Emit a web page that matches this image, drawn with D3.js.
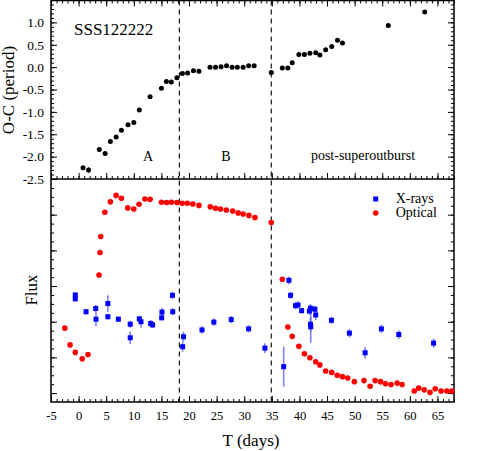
<!DOCTYPE html>
<html>
<head>
<meta charset="utf-8">
<script src="https://cdn.jsdelivr.net/npm/d3@7"></script>
<style>
  body { margin: 0; background: #fff; }
  text { font-family: "Liberation Serif", "Times New Roman", serif; fill: #000; }
</style>
</head>
<body>
<svg id="chart" width="480" height="451"></svg>
<script>
// O-C (period) vs T
const ocT = [0.8, 1.8, 3.75, 4.8, 5.75, 6.8, 7.75, 8.95, 10.0, 11.0, 12.95, 15.0, 15.9, 16.8, 17.8, 18.8, 19.75, 20.8, 21.8,
  23.8, 24.8, 25.8, 26.8, 27.8, 28.75, 29.8, 30.8, 31.8, 34.9, 36.9, 37.9, 38.7, 39.9, 40.9, 41.9, 42.95, 43.7, 44.75,
  45.85, 46.9, 47.8, 56.1, 62.7];
const ocVal = [-2.25, -2.30, -1.84, -1.93, -1.66, -1.56, -1.41, -1.29, -1.24, -0.96, -0.66, -0.47, -0.32, -0.33, -0.24,
  -0.14, -0.13, -0.08, -0.09, 0.0, 0.0, 0.01, 0.03, 0.0, 0.0, 0.0, 0.03, 0.03, -0.12, -0.02, -0.02, 0.10, 0.28, 0.28,
  0.31, 0.32, 0.27, 0.39, 0.46, 0.60, 0.54, 0.93, 1.23];
const ocErr = [0.04, 0.06, 0.04, 0.04, 0.03, 0.03, 0.03, 0.03, 0.03, 0.03, 0.03, 0.03, 0.03, 0.03, 0.03, 0.03, 0.03,
  0.03, 0.03, 0.03, 0.03, 0.03, 0.03, 0.03, 0.03, 0.03, 0.03, 0.03, 0.03, 0.03, 0.03, 0.03, 0.03, 0.03, 0.03, 0.03,
  0.03, 0.03, 0.03, 0.04, 0.04, 0.04, 0.04];

// Optical flux
const optT = [-2.5, -1.55, -0.6, 0.65, 1.7, 3.7, 3.88, 4.0, 4.75, 5.75, 6.8, 7.75, 8.9, 10.0, 10.95, 12.0, 12.95, 15.0,
  15.95, 16.8, 17.8, 18.75, 19.7, 20.7, 21.8, 23.85, 24.8, 25.7, 26.75, 27.9, 28.9, 29.8, 30.85, 31.95, 34.9, 36.9,
  37.9, 38.7, 39.9, 40.9, 41.9, 42.95, 43.7, 44.75, 45.85, 46.85, 47.8, 48.75, 49.95, 51.7, 52.8, 53.7, 54.7, 55.6,
  56.6, 57.7, 58.6, 60.8, 61.6, 62.6, 63.65, 64.6, 65.65, 66.7, 67.6];
const optFlux = [1.82, 1.35, 1.14, 0.96, 1.08, 3.31, 3.94, 4.39, 5.07, 5.36, 5.54, 5.46, 5.19, 5.16, 5.29, 5.44, 5.43,
  5.35, 5.34, 5.35, 5.34, 5.32, 5.32, 5.30, 5.26, 5.22, 5.18, 5.16, 5.13, 5.10, 5.05, 5.02, 4.98, 4.92, 4.78, 3.19,
  1.85, 1.59, 1.31, 1.10, 0.99, 0.88, 0.79, 0.62, 0.58, 0.50, 0.46, 0.42, 0.32, 0.35, 0.19, 0.35, 0.32, 0.26, 0.24,
  0.28, 0.24, 0.06, 0.14, 0.09, 0.02, 0.12, 0.06, 0.06, 0.06];

// X-ray flux
const xrT = [-0.6, -0.6, 1.35, 3.1, 3.15, 5.3, 5.3, 7.2, 9.35, 9.35, 11.0, 11.3, 13.05, 13.4, 15.05, 15.1, 17.0, 17.05,
  19.0, 18.85, 22.35, 24.5, 27.65, 30.8, 33.75, 37.15, 38.1, 38.4, 39.3, 39.75, 40.4, 41.8, 42.0, 42.0, 42.05, 42.8,
  42.95, 45.8, 49.05, 51.9, 54.85, 58.0, 64.3];
const xrFlux = [2.75, 2.64, 2.28, 2.37, 2.07, 2.51, 2.14, 2.07, 1.93, 1.55, 2.08, 2.00, 1.95, 1.91, 2.11, 2.27, 2.74,
  2.28, 1.58, 1.30, 1.77, 1.99, 2.06, 1.80, 1.26, 0.74, 3.16, 2.74, 2.45, 2.47, 2.31, 2.30, 2.38, 1.93, 1.86, 2.35,
  2.19, 2.04, 1.68, 1.13, 1.80, 1.64, 1.40];
const xrErr = [0.07, 0.07, 0.08, 0.1, 0.2, 0.23, 0.08, 0.08, 0.1, 0.18, 0.08, 0.16, 0.1, 0.08, 0.08, 0.12, 0.1, 0.1,
  0.14, 0.14, 0.1, 0.1, 0.1, 0.1, 0.14, 0.56, 0.11, 0.1, 0.1, 0.1, 0.08, 0.1, 0.12, 0.2, 0.45, 0.1, 0.14, 0.1, 0.12,
  0.16, 0.12, 0.12, 0.13];

const phaseLines = [18.25, 34.9];
const xTicks = [-5, 0, 5, 10, 15, 20, 25, 30, 35, 40, 45, 50, 55, 60, 65];
const ocTicks = [-2.5, -2.0, -1.5, -1.0, -0.5, 0.0, 0.5, 1.0];
const fluxTicks = [0, 1, 2, 3, 4, 5, 6];

const left = 51, right = 454, topY = 0.5, mid = 179, bottom = 402;

const svg = d3.select("#chart");

const x = d3.scaleLinear().domain([-5, 68]).range([left, right]);
const yOC = d3.scaleLinear().domain([-2.5, 1.5]).range([mid, 0]);
const yFlux = d3.scaleLinear().domain([-0.25, 6]).range([bottom, mid]);

// helper: draw an axis with no domain line
function ticks(axis, tx, ty, cls) {
  const g = svg.append("g")
    .attr("class", cls)
    .attr("transform", "translate(" + tx + "," + ty + ")")
    .call(axis);
  g.select(".domain").remove();
  g.selectAll("line").attr("stroke", "#000").attr("stroke-width", 1);
  g.selectAll("text").attr("font-family", "Liberation Serif").attr("fill", "#000");
  return g;
}

const minorX = d3.range(-5, 69, 1);

// top panel x ticks (top & bottom edges)
ticks(d3.axisTop(x).tickValues(minorX).tickSize(-3).tickFormat(""), 0, topY, "tx");
ticks(d3.axisTop(x).tickValues(xTicks).tickSize(-6).tickFormat(""), 0, topY, "tx");
ticks(d3.axisBottom(x).tickValues(minorX).tickSize(-3).tickFormat(""), 0, mid, "tx");
ticks(d3.axisBottom(x).tickValues(xTicks).tickSize(-6).tickFormat(""), 0, mid, "tx");

// bottom panel x axis with labels
ticks(d3.axisBottom(x).tickValues(minorX).tickSize(-3).tickFormat(""), 0, bottom, "bx");
ticks(d3.axisBottom(x).tickValues(xTicks).tickSizeInner(-6).tickSizeOuter(0).tickPadding(9)
  .tickFormat(d => String(d)), 0, bottom, "bx")
  .selectAll("text").attr("font-size", 12.5);

// top panel y ticks
const minorOC = d3.range(-25, 15, 1).map(d => d / 10);
ticks(d3.axisLeft(yOC).tickValues(minorOC).tickSize(-3).tickFormat(""), left, 0, "oy");
ticks(d3.axisLeft(yOC).tickValues(ocTicks).tickSizeInner(-6).tickSizeOuter(0).tickPadding(7)
  .tickFormat(d => d.toFixed(1)), left, 0, "oy")
  .selectAll("text").attr("font-size", 13.5);
ticks(d3.axisRight(yOC).tickValues(minorOC).tickSize(-3).tickFormat(""), right, 0, "oy");
ticks(d3.axisRight(yOC).tickValues(ocTicks).tickSize(-6).tickFormat(""), right, 0, "oy");

// bottom panel y ticks (no labels)
const minorFlux = d3.range(-0.25, 6.01, 0.25).filter(d => d > -0.2);
ticks(d3.axisLeft(yFlux).tickValues(minorFlux).tickSize(-3).tickFormat(""), left, 0, "fy");
ticks(d3.axisLeft(yFlux).tickValues(fluxTicks).tickSize(-6).tickFormat(""), left, 0, "fy");
ticks(d3.axisRight(yFlux).tickValues(minorFlux).tickSize(-3).tickFormat(""), right, 0, "fy");
ticks(d3.axisRight(yFlux).tickValues(fluxTicks).tickSize(-6).tickFormat(""), right, 0, "fy");

// frames
svg.append("rect")
  .attr("x", left).attr("y", topY)
  .attr("width", right - left).attr("height", bottom - topY)
  .attr("fill", "none").attr("stroke", "#000").attr("stroke-width", 1.5);
svg.append("line")
  .attr("x1", left).attr("x2", right)
  .attr("y1", mid).attr("y2", mid)
  .attr("stroke", "#000").attr("stroke-width", 1.5);

// dashed phase boundaries
svg.selectAll(".phase")
  .data(phaseLines)
  .enter()
  .append("line")
  .attr("class", "phase")
  .attr("x1", d => x(d)).attr("x2", d => x(d))
  .attr("y1", topY).attr("y2", bottom)
  .attr("stroke", "#000").attr("stroke-width", 1.1)
  .attr("stroke-dasharray", "5,4");

// O-C points
const oc = ocT.map((t, i) => ({ t: t, v: ocVal[i], e: ocErr[i] }));
svg.append("g").selectAll("line")
  .data(oc).enter().append("line")
  .attr("x1", d => x(d.t)).attr("x2", d => x(d.t))
  .attr("y1", d => yOC(d.v - d.e)).attr("y2", d => yOC(d.v + d.e))
  .attr("stroke", "#000").attr("stroke-width", 1.3);
svg.append("g").selectAll("circle")
  .data(oc).enter().append("circle")
  .attr("cx", d => x(d.t)).attr("cy", d => yOC(d.v))
  .attr("r", 2.5).attr("fill", "#000");

// optical
const opt = optT.map((t, i) => ({ t: t, v: optFlux[i] }));
svg.append("g").selectAll("circle")
  .data(opt).enter().append("circle")
  .attr("cx", d => x(d.t)).attr("cy", d => yFlux(d.v))
  .attr("r", 2.8).attr("fill", "#ff0000");

// x-rays with error bars
const xr = xrT.map((t, i) => ({ t: t, v: xrFlux[i], e: xrErr[i] }));
svg.append("g").selectAll("line")
  .data(xr).enter().append("line")
  .attr("x1", d => x(d.t)).attr("x2", d => x(d.t))
  .attr("y1", d => yFlux(d.v - d.e)).attr("y2", d => yFlux(d.v + d.e))
  .attr("stroke", "#3b3bff").attr("stroke-opacity", 0.65).attr("stroke-width", 1.6);
svg.append("g").selectAll("rect")
  .data(xr).enter().append("rect")
  .attr("x", d => x(d.t) - 2.5).attr("y", d => yFlux(d.v) - 2.5)
  .attr("width", 5).attr("height", 5)
  .attr("fill", "#0000ff");

// Legend
svg.append("rect")
  .attr("x", 373.2).attr("y", 196.5).attr("width", 5).attr("height", 5)
  .attr("fill", "#0000ff");
svg.append("circle")
  .attr("cx", 375.7).attr("cy", 213).attr("r", 2.8)
  .attr("fill", "#ff0000");
svg.append("text").attr("x", 395.7).attr("y", 203).attr("font-size", 14).text("X-rays");
svg.append("text").attr("x", 395.7).attr("y", 217).attr("font-size", 14).text("Optical");

// Labels
svg.append("text").attr("x", 74).attr("y", 35).attr("font-size", 17).text("SSS122222");
svg.append("text").attr("x", 148).attr("y", 161).attr("font-size", 14)
  .style("text-anchor", "middle").text("A");
svg.append("text").attr("x", 226).attr("y", 161).attr("font-size", 14)
  .style("text-anchor", "middle").text("B");
svg.append("text").attr("x", 363).attr("y", 160).attr("font-size", 14)
  .style("text-anchor", "middle").text("post-superoutburst");

// axis titles
svg.append("text")
  .attr("transform", "translate(13.5," + 90 + ") rotate(-90)")
  .attr("font-size", 17).style("text-anchor", "middle")
  .text("O-C (period)");
svg.append("text")
  .attr("transform", "translate(36.5," + 290 + ") rotate(-90)")
  .attr("font-size", 17).style("text-anchor", "middle")
  .text("Flux");
svg.append("text")
  .attr("x", 251).attr("y", 446)
  .attr("font-size", 17).style("text-anchor", "middle")
  .text("T (days)");
</script>
</body>
</html>
